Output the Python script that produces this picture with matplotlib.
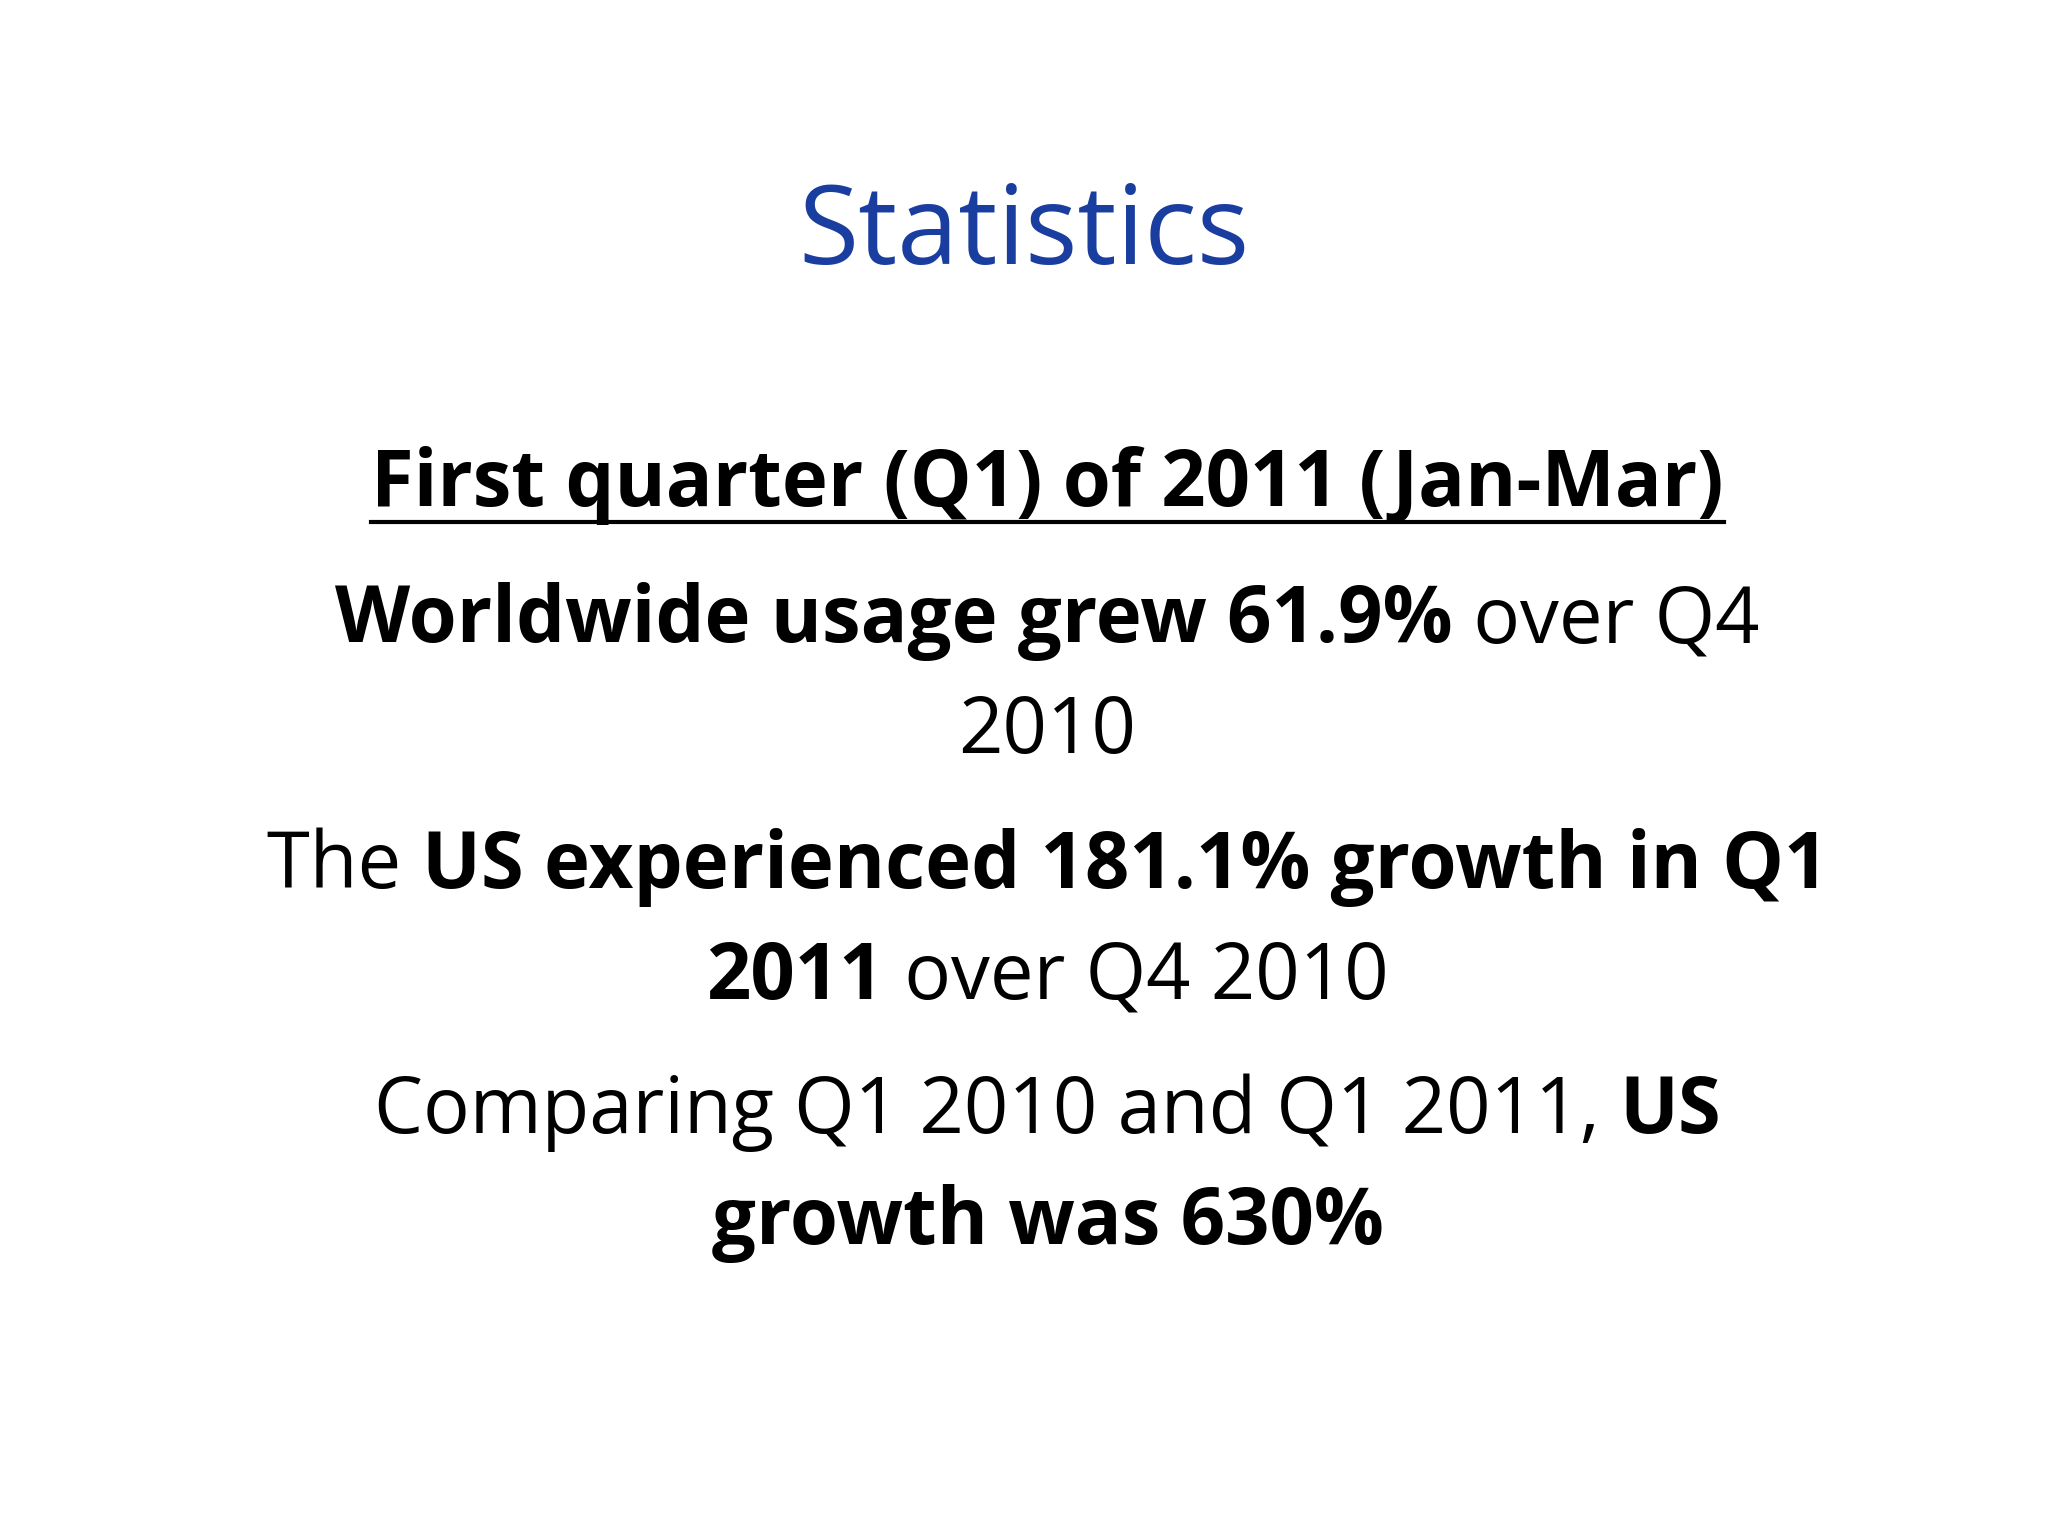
import matplotlib
matplotlib.use("Agg")
import matplotlib.pyplot as plt

title = "Statistics"
heading = "First quarter (Q1) of 2011 (Jan-Mar)"
# each line: list of (text, bold)
lines = [
    [("Worldwide usage grew 61.9%", True), (" over Q4", False)],
    [("2010", False)],
    [("The ", False), ("US experienced 181.1% growth in Q1", True)],
    [("2011", True), (" over Q4 2010", False)],
    [("Comparing Q1 2010 and Q1 2011, ", False), ("US", True)],
    [("growth was 630%", True)],
]
line_y = [476, 561, 664, 749, 852, 937]

W, H = 2048, 1536
fig = plt.figure(figsize=(20.48, 15.36), dpi=100)
fig.patch.set_facecolor("white")
S = H / 1176.0
FONT = "Open Sans"
FS = 56
XC = 802 / 1568 * W

def fy(y):
    return 1 - (y * S) / H

fig.text(0.5, fy(180), title, ha="center", va="center", fontsize=79,
         color="#1A3DA0", family=FONT)

r = fig.canvas.get_renderer()

def draw_line(segs, y, underline=False):
    arts = []
    for t, b in segs:
        a = fig.text(0, fy(y), t, ha="left", va="center", fontsize=FS,
                     family=FONT, weight="bold" if b else "normal", color="black")
        arts.append(a)
    widths = [a.get_window_extent(r).width for a in arts]
    total = sum(widths)
    x = XC - total / 2
    for a, w in zip(arts, widths):
        a.set_x(x / W)
        x += w
    if underline:
        x0 = XC - total / 2
        yb = fy(y + 28)
        fig.add_artist(plt.Line2D([x0 / W, (x0 + total) / W], [yb, yb],
                                  color="black", lw=3, transform=fig.transFigure))

draw_line([(heading, True)], 372, underline=True)
for segs, y in zip(lines, line_y):
    draw_line(segs, y)

fig.savefig("out.png", dpi=100, facecolor="white")
